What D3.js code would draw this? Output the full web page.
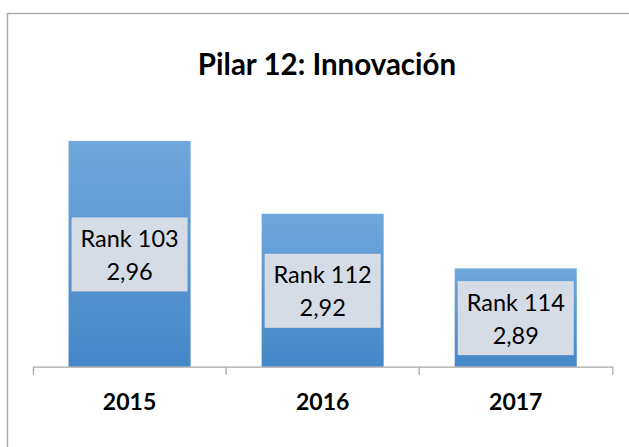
<!DOCTYPE html>
<html>
<head>
<meta charset="utf-8">
<script src="https://cdn.jsdelivr.net/npm/d3@7"></script>
<style>
  body { margin: 0; background: #fff; }
  svg { display: block; font-family: Lato, "Open Sans", sans-serif; }
</style>
</head>
<body>
<div id="chart"></div>
<script>
// Chart data
const years = ["2015", "2016", "2017"];
const scores = [2.96, 2.92, 2.89];
const ranks = [103, 112, 114];
const title = "Pilar 12: Innovación";

const W = 629, H = 447;
const plot = { left: 33, right: 612.3, top: 104.5, bottom: 366.7 };

const svg = d3.select("#chart").append("svg").attr("width", W).attr("height", H);

// Gradient for the bars (lighter at the top)
const grad = svg.append("defs").append("linearGradient")
  .attr("id", "barGrad").attr("x1", 0).attr("y1", 0).attr("x2", 0).attr("y2", 1);
grad.append("stop").attr("offset", "0%").attr("stop-color", "#70a7dc");
grad.append("stop").attr("offset", "100%").attr("stop-color", "#4487c8");

// Outer chart border (runs off the right and bottom edges)
svg.append("rect")
  .attr("x", 7.5).attr("y", 13.5).attr("width", 660).attr("height", 480)
  .attr("fill", "none").attr("stroke", "#a9a9a9").attr("stroke-width", 1.4);

// Title
svg.append("text")
  .attr("x", 327).attr("y", 74.5)
  .attr("text-anchor", "middle")
  .attr("font-size", 29.5).attr("font-weight", "bold").attr("fill", "#000")
  .text(title);

// Scales
const data = years.map((y, i) => ({ year: y, score: scores[i], rank: ranks[i] }));

const xScale = d3.scaleBand()
  .domain(years)
  .range([plot.left, plot.right])
  .paddingInner(0.368)
  .paddingOuter(0.184);

const yScale = d3.scaleLinear()
  .domain([2.836, 2.98])
  .range([plot.bottom, plot.top]);

// Bars
svg.selectAll(".bar")
  .data(data)
  .enter()
  .append("rect")
  .attr("class", "bar")
  .attr("x", (d) => xScale(d.year))
  .attr("y", (d) => yScale(d.score))
  .attr("width", xScale.bandwidth())
  .attr("height", (d) => plot.bottom - yScale(d.score))
  .attr("fill", "url(#barGrad)");

// Category axis: line with ticks at the category boundaries
const axis = svg.append("g")
  .attr("transform", `translate(0,${plot.bottom})`)
  .call(d3.axisBottom(xScale).tickSize(0).tickSizeOuter(8).tickPadding(0));
axis.select(".domain").attr("stroke", "#a6a6a6").attr("stroke-width", 1.3);
axis.selectAll(".tick text")
  .attr("y", 43.5).attr("dy", 0)
  .attr("font-family", "Lato, sans-serif")
  .attr("font-size", 23).attr("font-weight", "bold").attr("fill", "#000");

const step = xScale.step();
axis.selectAll(".boundary")
  .data(years.slice(1))
  .enter()
  .append("line")
  .attr("class", "boundary")
  .attr("x1", (d) => xScale(d) - (step - xScale.bandwidth()) / 2)
  .attr("x2", (d) => xScale(d) - (step - xScale.bandwidth()) / 2)
  .attr("y1", 0).attr("y2", 8)
  .attr("stroke", "#a6a6a6").attr("stroke-width", 1.3);

// Data labels: light box centred in each bar with rank and score
const fmt = d3.formatLocale({ decimal: ",", thousands: ".", grouping: [3], currency: ["", ""] }).format(".2f");
const boxW = 116, boxH = 74;

const labels = svg.selectAll(".label")
  .data(data)
  .enter()
  .append("g")
  .attr("class", "label")
  .attr("transform", (d) => {
    const cx = xScale(d.year) + xScale.bandwidth() / 2;
    const cy = (yScale(d.score) + plot.bottom) / 2 + 0.6;
    return `translate(${cx},${cy})`;
  });

labels.append("rect")
  .attr("x", -boxW / 2).attr("y", -boxH / 2)
  .attr("width", boxW).attr("height", boxH)
  .attr("fill", "#d6dce5");

labels.append("text")
  .attr("text-anchor", "middle")
  .attr("font-size", 23.5).attr("fill", "#000")
  .attr("y", -7.5)
  .text((d) => "Rank " + d.rank);

labels.append("text")
  .attr("text-anchor", "middle")
  .attr("font-size", 23.5).attr("fill", "#000")
  .attr("y", 25.5)
  .text((d) => fmt(d.score));
</script>
</body>
</html>
